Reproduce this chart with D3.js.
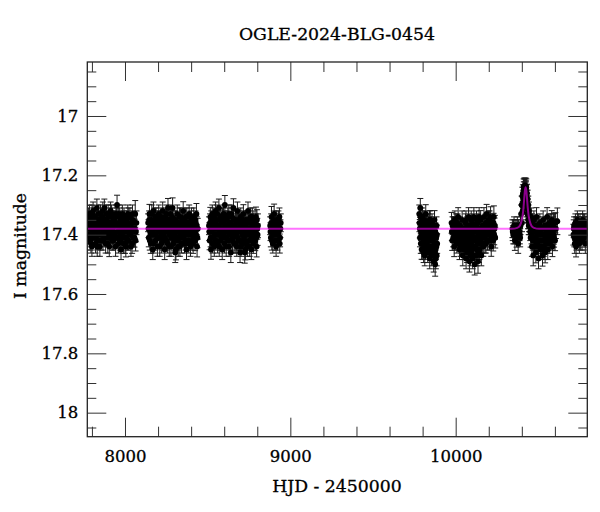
<!DOCTYPE html>
<html>
<head>
<meta charset="utf-8">
<script src="https://cdn.jsdelivr.net/npm/d3@7"></script>
<style>
  html, body { margin: 0; padding: 0; background: #fff; }
  svg { display: block; }
  text { font-family: "DejaVu Serif", "Liberation Serif", serif; fill: #000; }
</style>
</head>
<body>
<svg id="chart" width="600" height="512"></svg>
<script>
// ---- Data: [HJD-2450000, I mag, error] ----
const season1 = [[7778,17.36,.03],[7782,17.40,.03],[7785,17.33,.03],[7789,17.42,.032],[7792,17.37,.03],[7796,17.35,.03],[7800,17.44,.033],[7803,17.39,.03],[7807,17.32,.03],[7811,17.38,.03],[7815,17.41,.031],[7818,17.34,.03],[7822,17.43,.032],[7826,17.36,.03],[7830,17.31,.03],[7833,17.39,.03],[7837,17.42,.031],[7841,17.35,.03],[7845,17.38,.03],[7848,17.44,.033],[7852,17.33,.03],[7856,17.37,.03],[7860,17.40,.031],[7864,17.34,.03],[7867,17.42,.032],[7871,17.36,.03],[7875,17.31,.03],[7879,17.39,.03],[7883,17.43,.032],[7886,17.35,.03],[7890,17.38,.03],[7894,17.41,.031],[7898,17.33,.03],[7902,17.37,.03],[7905,17.44,.034],[7909,17.36,.03],[7913,17.32,.03],[7917,17.40,.031],[7921,17.38,.03],[7925,17.34,.03],[7929,17.42,.032],[7933,17.37,.03],[7937,17.35,.03],[7941,17.41,.031],[7945,17.33,.03],[7952,17.30,.033],[7956,17.39,.03],[7960,17.43,.032],[7964,17.36,.03],[7968,17.34,.03],[7972,17.40,.031],[7976,17.45,.034],[7980,17.37,.03],[7984,17.33,.03],[7988,17.41,.031],[7992,17.38,.03],[7996,17.35,.03],[8000,17.43,.033],[8005,17.44,.035],[8009,17.36,.03],[8013,17.39,.03],[8017,17.33,.03],[8021,17.42,.032],[8026,17.37,.03],[8030,17.34,.03],[8034,17.40,.031],[8039,17.36,.03],[8043,17.43,.033],[8048,17.35,.03],[8052,17.38,.03],[8057,17.41,.032],[8062,17.33,.045],[8066,17.39,.034],[8069,17.36,.04],
  [7780,17.34,.03],[7784,17.38,.03],[7787,17.41,.031],[7791,17.35,.03],[7794,17.43,.032],[7798,17.38,.03],[7801,17.33,.03],[7805,17.40,.031],[7809,17.36,.03],[7813,17.34,.03],[7816,17.39,.03],[7820,17.37,.03],[7824,17.41,.031],[7828,17.35,.03],[7832,17.44,.033],[7835,17.36,.03],[7839,17.33,.03],[7843,17.40,.031],[7847,17.37,.03],[7850,17.35,.03],[7854,17.42,.032],[7858,17.38,.03],[7862,17.36,.03],[7866,17.32,.03],[7869,17.39,.03],[7873,17.41,.031],[7877,17.35,.03],[7881,17.37,.03],[7885,17.40,.031],[7888,17.33,.03],[7892,17.36,.03],[7896,17.43,.032],[7900,17.39,.03],[7904,17.34,.03],[7907,17.38,.03],[7911,17.41,.031],[7915,17.36,.03],[7919,17.33,.03],[7923,17.42,.032],[7927,17.39,.03],[7931,17.35,.03],[7935,17.40,.031],[7939,17.37,.03],[7943,17.44,.033],[7947,17.36,.03],[7950,17.34,.03],[7954,17.41,.031],[7958,17.37,.03],[7962,17.33,.03],[7966,17.39,.03],[7970,17.42,.032],[7974,17.35,.03],[7978,17.38,.03],[7982,17.40,.031],[7986,17.36,.03],[7990,17.43,.033],[7994,17.34,.03],[7998,17.39,.03],[8002,17.37,.03],[8007,17.41,.031],[8011,17.35,.03],[8015,17.42,.032],[8019,17.38,.03],[8023,17.34,.03],[8028,17.40,.031],[8032,17.37,.03],[8036,17.44,.033],[8041,17.39,.03],[8045,17.33,.03],[8050,17.41,.031],[8054,17.36,.03],[8059,17.38,.032],[8064,17.42,.035]];
const season2 = [[8140,17.36,.03],[8144,17.41,.031],[8148,17.33,.032],[8152,17.39,.03],[8156,17.43,.033],[8160,17.35,.03],[8164,17.38,.03],[8168,17.45,.034],[8172,17.32,.03],[8176,17.40,.031],[8180,17.36,.03],[8184,17.42,.032],[8188,17.34,.03],[8192,17.38,.03],[8196,17.44,.033],[8200,17.37,.03],[8204,17.33,.03],[8208,17.41,.031],[8212,17.35,.03],[8216,17.39,.03],[8220,17.43,.032],[8224,17.36,.03],[8228,17.32,.03],[8232,17.40,.031],[8236,17.38,.03],[8240,17.45,.034],[8244,17.34,.03],[8248,17.37,.03],[8252,17.42,.032],[8256,17.35,.03],[8260,17.31,.032],[8264,17.39,.03],[8268,17.44,.033],[8272,17.36,.03],[8276,17.33,.03],[8280,17.41,.031],[8284,17.38,.03],[8288,17.31,.034],[8292,17.43,.032],[8296,17.35,.03],[8300,17.40,.031],[8304,17.46,.034],[8308,17.45,.035],[8312,17.37,.03],[8316,17.33,.03],[8320,17.42,.032],[8324,17.36,.03],[8328,17.39,.03],[8332,17.44,.033],[8336,17.34,.03],[8340,17.38,.03],[8344,17.41,.031],[8348,17.35,.03],[8352,17.32,.031],[8356,17.40,.031],[8360,17.43,.032],[8364,17.37,.03],[8368,17.34,.03],[8372,17.45,.034],[8376,17.39,.03],[8380,17.36,.03],[8384,17.42,.032],[8388,17.33,.03],[8392,17.38,.03],[8396,17.44,.033],[8400,17.35,.03],[8404,17.40,.031],[8408,17.37,.03],[8412,17.43,.033],[8416,17.34,.03],[8420,17.39,.03],[8424,17.42,.034],[8428,17.36,.03],[8432,17.33,.035],[8436,17.44,.035],[8440,17.38,.035],
  [8142,17.38,.03],[8146,17.35,.03],[8150,17.42,.032],[8154,17.37,.03],[8158,17.40,.031],[8162,17.33,.03],[8166,17.39,.03],[8170,17.36,.03],[8174,17.43,.032],[8178,17.38,.03],[8182,17.34,.03],[8186,17.40,.031],[8190,17.37,.03],[8194,17.35,.03],[8198,17.41,.031],[8202,17.39,.03],[8206,17.36,.03],[8210,17.44,.033],[8214,17.38,.03],[8218,17.34,.03],[8222,17.40,.031],[8226,17.37,.03],[8230,17.42,.032],[8234,17.35,.03],[8238,17.39,.03],[8242,17.41,.031],[8246,17.36,.03],[8250,17.33,.03],[8254,17.39,.03],[8258,17.43,.032],[8262,17.37,.03],[8266,17.35,.03],[8270,17.40,.031],[8274,17.38,.03],[8278,17.44,.033],[8282,17.36,.03],[8286,17.34,.03],[8290,17.39,.03],[8294,17.37,.03],[8298,17.42,.032],[8302,17.38,.03],[8306,17.35,.03],[8310,17.41,.031],[8314,17.39,.03],[8318,17.36,.03],[8322,17.44,.033],[8326,17.38,.03],[8330,17.34,.03],[8334,17.40,.031],[8338,17.37,.03],[8342,17.43,.032],[8346,17.39,.03],[8350,17.36,.03],[8354,17.41,.031],[8358,17.35,.03],[8362,17.38,.03],[8366,17.42,.032],[8370,17.37,.03],[8374,17.34,.03],[8378,17.40,.031],[8382,17.38,.03],[8386,17.43,.032],[8390,17.36,.03],[8394,17.40,.031],[8398,17.37,.03],[8402,17.34,.03],[8406,17.42,.032],[8410,17.39,.03],[8414,17.36,.03],[8418,17.41,.031],[8422,17.38,.03],[8426,17.35,.03],[8430,17.40,.031],[8434,17.37,.03],[8438,17.41,.034]];
const season3 = [[8508,17.37,.03],[8512,17.42,.031],[8516,17.34,.032],[8520,17.45,.033],[8524,17.39,.03],[8528,17.33,.03],[8532,17.41,.031],[8536,17.36,.03],[8540,17.44,.033],[8544,17.38,.03],[8548,17.32,.03],[8552,17.40,.031],[8556,17.35,.03],[8560,17.43,.032],[8564,17.37,.03],[8568,17.31,.03],[8572,17.39,.03],[8576,17.42,.032],[8580,17.34,.03],[8584,17.38,.03],[8588,17.45,.034],[8592,17.36,.03],[8596,17.33,.03],[8600,17.41,.031],[8604,17.30,.032],[8608,17.39,.03],[8612,17.44,.033],[8616,17.35,.03],[8620,17.37,.03],[8624,17.42,.032],[8628,17.33,.03],[8632,17.40,.031],[8636,17.36,.03],[8640,17.46,.034],[8644,17.38,.03],[8648,17.34,.03],[8652,17.41,.031],[8656,17.31,.031],[8660,17.43,.032],[8664,17.37,.03],[8668,17.35,.03],[8672,17.40,.031],[8676,17.44,.033],[8680,17.32,.03],[8684,17.38,.03],[8688,17.42,.032],[8692,17.36,.03],[8696,17.46,.034],[8700,17.34,.03],[8704,17.39,.03],[8708,17.43,.032],[8712,17.37,.03],[8716,17.33,.031],[8720,17.41,.031],[8724,17.46,.036],[8728,17.45,.035],[8732,17.35,.03],[8736,17.39,.03],[8740,17.44,.033],[8744,17.32,.03],[8748,17.38,.03],[8752,17.42,.032],[8756,17.36,.03],[8760,17.34,.03],[8764,17.45,.034],[8768,17.40,.031],[8772,17.37,.03],[8776,17.43,.033],[8780,17.35,.03],[8784,17.39,.03],[8788,17.42,.034],[8792,17.34,.033],[8796,17.44,.035],[8800,17.38,.035],[8804,17.37,.04],
  [8510,17.39,.03],[8514,17.36,.03],[8518,17.41,.031],[8522,17.35,.03],[8526,17.38,.03],[8530,17.43,.032],[8534,17.37,.03],[8538,17.34,.03],[8542,17.40,.031],[8546,17.36,.03],[8550,17.42,.032],[8554,17.38,.03],[8558,17.33,.03],[8562,17.40,.031],[8566,17.37,.03],[8570,17.44,.033],[8574,17.35,.03],[8578,17.39,.03],[8582,17.41,.031],[8586,17.36,.03],[8590,17.34,.03],[8594,17.40,.031],[8598,17.38,.03],[8602,17.43,.032],[8606,17.35,.03],[8610,17.37,.03],[8614,17.41,.031],[8618,17.39,.03],[8622,17.34,.03],[8626,17.38,.03],[8630,17.44,.033],[8634,17.36,.03],[8638,17.40,.031],[8642,17.33,.03],[8646,17.39,.03],[8650,17.42,.032],[8654,17.37,.03],[8658,17.35,.03],[8662,17.40,.031],[8666,17.38,.03],[8670,17.43,.032],[8674,17.36,.03],[8678,17.39,.03],[8682,17.41,.031],[8686,17.35,.03],[8690,17.38,.03],[8694,17.42,.032],[8698,17.37,.03],[8702,17.44,.033],[8706,17.36,.03],[8710,17.40,.031],[8714,17.38,.03],[8718,17.35,.03],[8722,17.42,.032],[8726,17.39,.03],[8730,17.37,.03],[8734,17.43,.032],[8738,17.36,.03],[8742,17.40,.031],[8746,17.35,.03],[8750,17.39,.03],[8754,17.44,.033],[8758,17.38,.03],[8762,17.36,.03],[8766,17.41,.031],[8770,17.34,.03],[8774,17.39,.03],[8778,17.42,.032],[8782,17.37,.03],[8786,17.40,.031],[8790,17.36,.03],[8794,17.41,.032],[8798,17.35,.034],[8802,17.40,.036]];
const season4 = [[8878,17.37,.03],[8882,17.41,.031],[8886,17.34,.035],[8890,17.39,.03],[8894,17.43,.032],[8898,17.36,.03],[8902,17.33,.033],[8906,17.40,.031],[8910,17.38,.03],[8914,17.44,.033],[8918,17.35,.03],[8922,17.42,.032],[8926,17.37,.03],[8930,17.39,.03],[8934,17.34,.03],[8938,17.41,.031],[8942,17.36,.03],
  [8880,17.39,.03],[8884,17.36,.03],[8888,17.42,.032],[8892,17.37,.03],[8896,17.40,.031],[8900,17.35,.03],[8904,17.38,.03],[8908,17.42,.032],[8912,17.36,.03],[8916,17.39,.03],[8920,17.37,.03],[8924,17.40,.031],[8928,17.35,.03],[8932,17.38,.03],[8936,17.43,.032],[8940,17.38,.03]];
const season5 = [[9780,17.33,.03],[9783,17.38,.031],[9786,17.31,.032],[9789,17.43,.033],[9792,17.36,.03],[9795,17.40,.031],[9798,17.34,.03],[9801,17.45,.034],[9804,17.38,.03],[9807,17.42,.032],[9810,17.35,.03],[9813,17.47,.035],[9816,17.39,.03],[9819,17.33,.031],[9822,17.44,.033],[9825,17.37,.03],[9828,17.41,.031],[9831,17.46,.034],[9834,17.36,.03],[9837,17.42,.032],[9840,17.39,.03],[9843,17.48,.035],[9846,17.35,.031],[9849,17.44,.033],[9852,17.40,.031],[9855,17.37,.03],[9858,17.46,.034],[9861,17.42,.032],[9864,17.38,.03],[9867,17.49,.036],[9870,17.44,.033],[9873,17.40,.031],[9876,17.50,.04],[9879,17.45,.034],[9882,17.41,.032],[9885,17.47,.035],[9888,17.43,.033],
  [9781,17.36,.03],[9784,17.41,.031],[9787,17.34,.03],[9790,17.39,.03],[9793,17.37,.03],[9796,17.43,.032],[9799,17.38,.03],[9802,17.35,.03],[9805,17.41,.031],[9808,17.39,.03],[9811,17.44,.033],[9814,17.37,.03],[9817,17.42,.032],[9820,17.39,.03],[9823,17.36,.03],[9826,17.43,.032],[9829,17.40,.031],[9832,17.38,.03],[9835,17.44,.033],[9838,17.41,.031],[9841,17.37,.03],[9844,17.45,.034],[9847,17.40,.031],[9850,17.38,.03],[9853,17.47,.035],[9856,17.42,.032],[9859,17.39,.03],[9862,17.45,.034],[9865,17.41,.031],[9868,17.38,.03],[9871,17.46,.034],[9874,17.43,.032],[9877,17.39,.03],[9880,17.48,.035],[9883,17.44,.033],[9886,17.40,.032],
  [9842,17.35,.03],[9857,17.36,.03],[9872,17.35,.031],[9884,17.37,.03],[9794,17.45,.033],[9806,17.46,.034],[9818,17.45,.033]];
const season6 = [[9975,17.36,.035],[9979,17.42,.033],[9983,17.39,.03],[9987,17.37,.03],[9991,17.44,.034],[9995,17.35,.03],[9999,17.40,.031],[10003,17.38,.03],[10007,17.43,.032],[10011,17.36,.03],[10015,17.34,.031],[10019,17.41,.031],[10023,17.45,.034],[10027,17.37,.03],[10031,17.39,.03],[10035,17.43,.032],[10039,17.35,.03],[10043,17.47,.035],[10047,17.40,.031],[10051,17.38,.03],[10055,17.44,.033],[10059,17.36,.03],[10063,17.48,.035],[10067,17.42,.032],[10071,17.39,.03],[10075,17.45,.034],[10079,17.37,.03],[10083,17.49,.036],[10087,17.43,.032],[10091,17.40,.031],[10095,17.46,.034],[10099,17.36,.03],[10103,17.48,.035],[10107,17.42,.032],[10111,17.39,.03],[10115,17.50,.036],[10119,17.44,.033],[10123,17.37,.03],[10127,17.47,.035],[10131,17.41,.031],[10135,17.49,.04],[10139,17.38,.03],[10143,17.45,.034],[10147,17.42,.032],[10151,17.35,.031],[10155,17.47,.035],[10159,17.40,.031],[10163,17.37,.03],[10167,17.44,.033],[10171,17.34,.031],[10175,17.41,.031],[10179,17.38,.03],[10183,17.43,.032],[10187,17.33,.032],[10191,17.36,.035],[10195,17.40,.031],[10199,17.35,.03],[10203,17.42,.032],[10207,17.37,.03],[10211,17.34,.034],[10215,17.44,.033],[10219,17.39,.03],[10223,17.36,.03],[10227,17.42,.035],[10231,17.34,.037],[10235,17.38,.036],[10239,17.41,.035],
  [9977,17.39,.03],[9981,17.37,.03],[9985,17.41,.031],[9989,17.39,.03],[9993,17.37,.03],[9997,17.42,.032],[10001,17.36,.03],[10005,17.40,.031],[10009,17.38,.03],[10013,17.42,.032],[10017,17.37,.03],[10021,17.39,.03],[10025,17.41,.031],[10029,17.44,.033],[10033,17.38,.03],[10037,17.40,.031],[10041,17.42,.032],[10045,17.38,.03],[10049,17.45,.034],[10053,17.41,.031],[10057,17.39,.03],[10061,17.43,.032],[10065,17.40,.031],[10069,17.46,.034],[10073,17.42,.032],[10077,17.40,.031],[10081,17.44,.033],[10085,17.41,.031],[10089,17.47,.035],[10093,17.43,.032],[10097,17.40,.031],[10101,17.45,.034],[10105,17.39,.03],[10109,17.44,.033],[10113,17.41,.031],[10117,17.47,.035],[10121,17.42,.032],[10125,17.39,.03],[10129,17.45,.034],[10133,17.43,.032],[10137,17.40,.031],[10141,17.46,.034],[10145,17.39,.03],[10149,17.43,.032],[10153,17.41,.031],[10157,17.38,.03],[10161,17.43,.032],[10165,17.39,.03],[10169,17.41,.031],[10173,17.37,.03],[10177,17.43,.032],[10181,17.36,.03],[10185,17.40,.031],[10189,17.38,.03],[10193,17.42,.032],[10197,17.37,.03],[10201,17.39,.03],[10205,17.35,.03],[10209,17.40,.031],[10213,17.38,.03],[10217,17.41,.031],[10221,17.37,.03],[10225,17.39,.03],[10229,17.36,.032],[10233,17.40,.034],[10237,17.37,.035],
  [10062,17.35,.03],[10078,17.34,.031],[10094,17.35,.03],[10110,17.34,.031],[10126,17.35,.03],[10142,17.34,.031],[10070,17.37,.03],[10102,17.37,.03],[10134,17.36,.03],[10118,17.38,.03],[10086,17.38,.03]];
const season7 = [[10343,17.38,.03],[10348,17.40,.031],[10353,17.37,.03],[10358,17.42,.033],[10363,17.39,.03],[10368,17.41,.032],[10373,17.37,.03],[10378,17.43,.033],[10383,17.39,.03],[10388,17.40,.031],[10392,17.37,.03],[10396,17.33,.03],[10399,17.30,.03],[10401,17.36,.03],[10403,17.27,.03],[10405,17.32,.03],[10407,17.26,.028],[10409,17.29,.03],[10411,17.24,.028],[10413,17.27,.03],[10415,17.235,.026],[10417,17.25,.028],[10419,17.235,.025],[10421,17.24,.028],[10423,17.235,.026],[10425,17.25,.028],[10427,17.24,.028],[10429,17.28,.03],[10431,17.26,.03],[10433,17.30,.03],[10435,17.28,.03],[10437,17.33,.03],[10439,17.30,.03],[10441,17.35,.03],[10443,17.32,.03],[10446,17.37,.03],[10449,17.36,.03],[10453,17.41,.032],[10457,17.34,.03],[10461,17.44,.033],[10465,17.38,.03],[10469,17.47,.035],[10473,17.35,.03],[10477,17.42,.032],[10481,17.39,.03],[10485,17.46,.035],[10489,17.34,.031],[10493,17.43,.033],[10497,17.37,.03],[10501,17.48,.035],[10505,17.40,.031],[10509,17.36,.03],[10513,17.45,.034],[10517,17.42,.032],[10521,17.38,.03],[10525,17.47,.036],[10529,17.35,.03],[10533,17.44,.033],[10537,17.40,.031],[10541,17.46,.035],[10545,17.37,.03],[10549,17.42,.032],[10553,17.34,.031],[10557,17.45,.034],[10561,17.39,.03],[10565,17.36,.03],[10569,17.43,.033],[10573,17.38,.03],[10577,17.41,.032],[10581,17.35,.031],[10585,17.44,.034],[10589,17.37,.03],[10593,17.40,.032],[10597,17.36,.032],[10601,17.42,.034],[10606,17.38,.033],[10615,17.355,.045],
  [10345,17.39,.03],[10350,17.38,.03],[10355,17.40,.031],[10360,17.38,.03],[10366,17.39,.03],[10370,17.38,.03],[10376,17.40,.031],[10380,17.38,.03],[10386,17.39,.03],[10390,17.41,.031],[10404,17.30,.03],[10408,17.28,.03],[10412,17.25,.028],[10414,17.26,.028],[10416,17.24,.027],[10418,17.26,.028],[10420,17.25,.027],[10422,17.26,.028],[10424,17.245,.027],[10426,17.27,.028],[10428,17.26,.028],[10430,17.29,.03],[10432,17.31,.03],[10434,17.33,.03],[10436,17.31,.03],[10438,17.35,.03],[10440,17.33,.03],[10442,17.37,.03],[10444,17.36,.03],[10451,17.39,.03],[10455,17.37,.03],[10459,17.40,.031],[10463,17.36,.03],[10467,17.42,.032],[10471,17.39,.03],[10475,17.44,.033],[10479,17.37,.03],[10483,17.41,.031],[10487,17.43,.032],[10491,17.38,.03],[10495,17.40,.031],[10499,17.44,.033],[10503,17.37,.03],[10507,17.42,.032],[10511,17.39,.03],[10515,17.38,.03],[10519,17.44,.033],[10523,17.40,.031],[10527,17.42,.032],[10531,17.38,.03],[10535,17.45,.034],[10539,17.37,.03],[10543,17.41,.031],[10547,17.43,.032],[10551,17.39,.03],[10555,17.37,.03],[10559,17.42,.032],[10563,17.40,.031],[10567,17.38,.03],[10571,17.41,.031],[10575,17.36,.03],[10579,17.39,.03],[10583,17.42,.032],[10587,17.38,.03],[10591,17.36,.03],[10595,17.41,.032],[10599,17.38,.033],[10603,17.36,.034]];
const season8 = [[10712,17.40,.035],[10716,17.37,.03],[10720,17.43,.033],[10724,17.36,.03],[10728,17.44,.035],[10732,17.39,.031],[10736,17.35,.03],[10740,17.41,.032],[10744,17.38,.03],[10748,17.43,.033],[10752,17.36,.03],[10756,17.40,.031],[10760,17.37,.03],[10764,17.42,.032],[10768,17.35,.03],[10772,17.39,.031],[10776,17.41,.032],[10780,17.36,.03],[10784,17.43,.033],[10788,17.38,.031],[10792,17.40,.032],
  [10714,17.38,.03],[10718,17.41,.031],[10722,17.39,.03],[10726,17.37,.03],[10730,17.42,.032],[10734,17.37,.03],[10738,17.39,.03],[10742,17.36,.03],[10746,17.40,.031],[10750,17.38,.03],[10754,17.42,.032],[10758,17.39,.03],[10762,17.37,.03],[10766,17.40,.031],[10770,17.38,.03],[10774,17.36,.03],[10778,17.39,.03],[10782,17.40,.031],[10786,17.37,.03],[10790,17.39,.031],[10794,17.37,.032]];

// model (microlensing fit) curve
const modelT = [7772, 10340, 10373, 10388, 10398, 10405, 10410, 10415, 10419, 10423, 10427, 10431, 10436, 10441, 10448, 10458, 10473, 10505, 10796];
const modelM = [17.38, 17.38, 17.377, 17.37, 17.355, 17.335, 17.31, 17.275, 17.25, 17.24, 17.25, 17.275, 17.31, 17.335, 17.355, 17.37, 17.377, 17.38, 17.38];

// axis ticks
const xMajorTicks = [8000, 9000, 10000];
const xMinorTicks = [7800, 8200, 8400, 8600, 8800, 9200, 9400, 9600, 9800, 10200, 10400, 10600];
const yMajorTicks = [17, 17.2, 17.4, 17.6, 17.8, 18];
const yMinorTicks = [16.85, 16.9, 16.95, 17.05, 17.1, 17.15, 17.25, 17.3, 17.35, 17.45, 17.5, 17.55, 17.65, 17.7, 17.75, 17.85, 17.9, 17.95, 18.05];

const title = "OGLE-2024-BLG-0454";
const xLabel = "HJD - 2450000";
const yLabel = "I magnitude";

// ---- Drawing ----
const L = 87.3, R = 587.3, T = 62, B = 436.7;
const svg = d3.select("#chart");
const x = d3.scaleLinear().domain([7772, 10796]).range([L, R]);
const y = d3.scaleLinear().domain([16.818, 18.081]).range([T, B]);

svg.append("defs").append("clipPath").attr("id", "clip")
  .append("rect").attr("x", L).attr("y", T).attr("width", R - L).attr("height", B - T);

const data = [].concat(season1, season2, season3, season4, season5, season6, season7, season8);

const plot = svg.append("g").attr("clip-path", "url(#clip)");

// error bars
const eb = plot.append("g").attr("stroke", "#1a1a1a").attr("stroke-width", 1).attr("fill", "none");
const capW = 3;
eb.selectAll("path").data(data).join("path")
  .attr("d", d => {
    const cx = x(d[0]), y1 = y(d[1] - d[2]), y2 = y(d[1] + d[2]);
    return `M${cx},${y1}V${y2}M${cx - capW},${y1}H${cx + capW}M${cx - capW},${y2}H${cx + capW}`;
  });

// points
plot.append("g").selectAll("circle").data(data).join("circle")
  .attr("cx", d => x(d[0])).attr("cy", d => y(d[1])).attr("r", 2.9).attr("fill", "#000");

// model
const model = modelT.map((t, i) => [t, modelM[i]]);
plot.append("path").datum(model)
  .attr("fill", "none").attr("stroke", "#ff00ff").attr("stroke-opacity", 0.55).attr("stroke-width", 2)
  .attr("d", d3.line().x(d => x(d[0])).y(d => y(d[1])).curve(d3.curveMonotoneX));

// axes
function styleAxis(g) {
  g.select(".domain").remove();
  g.selectAll(".tick line").attr("stroke", "#333").attr("stroke-width", 1);
  g.selectAll(".tick text").attr("font-size", 16.5).attr("font-family", "DejaVu Serif, serif")
    .attr("fill", "#000").attr("stroke", "#000").attr("stroke-width", 0.3);
}
const fmtY = d3.format("~g");

svg.append("g").attr("transform", `translate(0,${B})`)
  .call(d3.axisBottom(x).tickValues(xMajorTicks).tickSize(-19).tickPadding(14).tickFormat(d3.format("d"))).call(styleAxis);
svg.append("g").attr("transform", `translate(0,${B})`)
  .call(d3.axisBottom(x).tickValues(xMinorTicks).tickSize(-10).tickFormat("")).call(styleAxis);
svg.append("g").attr("transform", `translate(0,${T})`)
  .call(d3.axisTop(x).tickValues(xMajorTicks).tickSize(-19).tickFormat("")).call(styleAxis);
svg.append("g").attr("transform", `translate(0,${T})`)
  .call(d3.axisTop(x).tickValues(xMinorTicks).tickSize(-10).tickFormat("")).call(styleAxis);

svg.append("g").attr("transform", `translate(${L},0)`)
  .call(d3.axisLeft(y).tickValues(yMajorTicks).tickSize(-19).tickPadding(9).tickFormat(fmtY)).call(styleAxis);
svg.append("g").attr("transform", `translate(${L},0)`)
  .call(d3.axisLeft(y).tickValues(yMinorTicks).tickSize(-9).tickFormat("")).call(styleAxis);
svg.append("g").attr("transform", `translate(${R},0)`)
  .call(d3.axisRight(y).tickValues(yMajorTicks).tickSize(-19).tickFormat("")).call(styleAxis);
svg.append("g").attr("transform", `translate(${R},0)`)
  .call(d3.axisRight(y).tickValues(yMinorTicks).tickSize(-9).tickFormat("")).call(styleAxis);

// frame
svg.append("rect").attr("x", L).attr("y", T).attr("width", R - L).attr("height", B - T)
  .attr("fill", "none").attr("stroke", "#222").attr("stroke-width", 1.3);

// labels
const lab = (sel) => sel.attr("font-size", 17.3).attr("stroke", "#000").attr("stroke-width", 0.3);
svg.append("text").attr("x", 337).attr("y", 40).attr("text-anchor", "middle").call(lab).text(title);
svg.append("text").attr("x", 337).attr("y", 492).attr("text-anchor", "middle").call(lab).text(xLabel);
svg.append("text").attr("transform", "translate(26,246) rotate(-90)").attr("text-anchor", "middle").call(lab).text(yLabel);
</script>
</body>
</html>
